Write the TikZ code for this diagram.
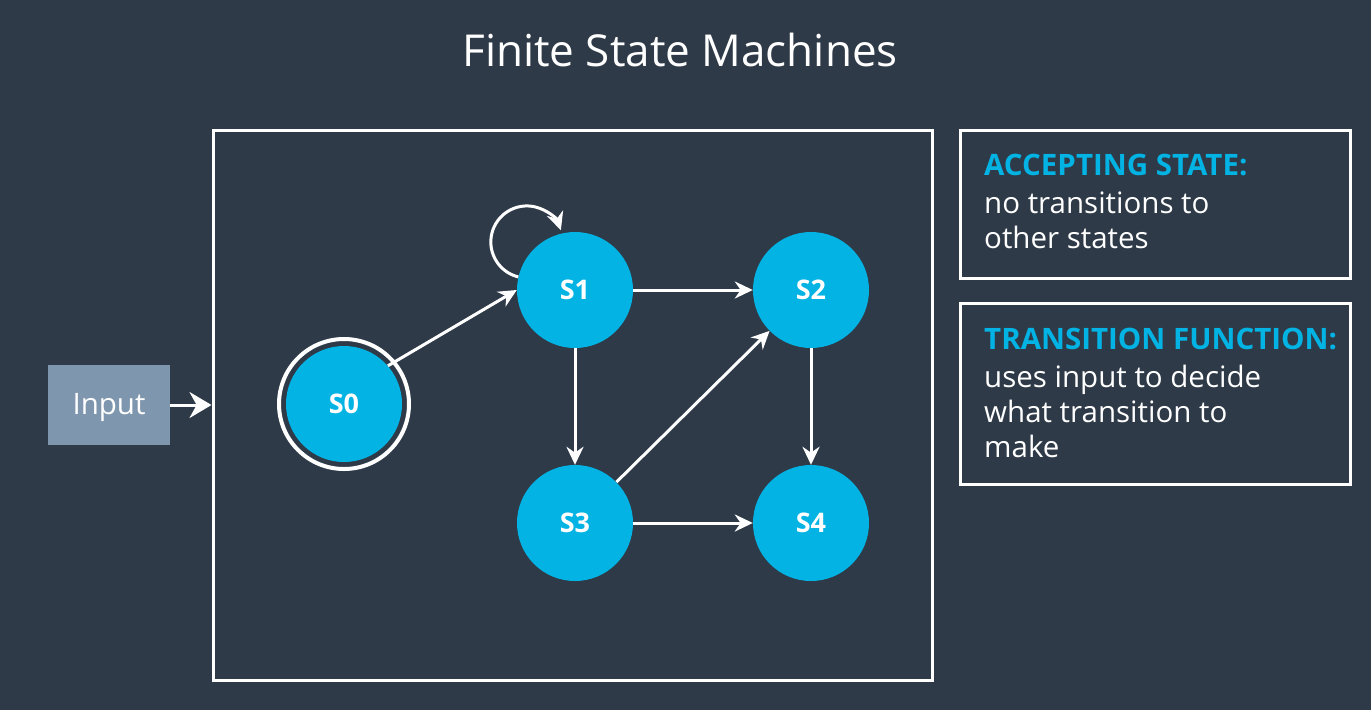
\documentclass[tikz,border=0pt]{standalone}
\usepackage{fontspec}
\setmainfont{Open Sans}
\usetikzlibrary{arrows.meta}
\definecolor{bg}{RGB}{46,58,72}
\definecolor{sblue}{RGB}{2,179,228}
\definecolor{inbox}{RGB}{127,151,174}
\tikzset{
  statenode/.style={circle, fill=sblue, minimum size=116pt, inner sep=0pt, text=white, font=\fontsize{27}{30}\selectfont\bfseries},
  conn/.style={draw=white, line width=3pt, -{Stealth[length=18pt,width=17pt]}},
  frame/.style={draw=white, line width=3pt},
  infotext/.style={text=white, align=left, anchor=north west, inner sep=0pt, font=\fontsize{29.5}{35}\selectfont},
}
\begin{document}
\begin{tikzpicture}[x=1pt,y=-1pt]
\fill[bg] (0,0) rectangle (1371,710);
\useasboundingbox (0,0) rectangle (1371,710);
\node[text=white, font=\fontsize{44}{50}\selectfont] (title) at (680,50) {Finite State Machines};
\node[frame, minimum width=719pt, minimum height=550pt, inner sep=0pt] (main) at (572.5,405) {};
\node[fill=inbox, minimum width=122pt, minimum height=80pt, inner sep=0pt] (input) at (109,405) {};
\node[text=white, font=\fontsize{29.5}{32}\selectfont, inner sep=0pt, yshift=-3pt] (inputlabel) at (input.center) {Input};
\draw[draw=white, line width=3pt, -{Stealth[length=22pt,width=26pt]}] (input.east) -- (main.west);
\node[statenode] (s0) at (344,404) {S0};
\node[draw=white, line width=4pt, circle, minimum size=130pt, inner sep=0pt] (s0ring) at (344,404) {};
\node[statenode] (s1) at (575,290) {S1};
\node[statenode] (s2) at (811,290) {S2};
\node[statenode] (s3) at (575,523) {S3};
\node[statenode] (s4) at (811,523) {S4};
\draw[conn] (s0.41) -- (s1.west);
\draw[conn] (s1) -- (s2);
\draw[conn] (s1) -- (s3);
\draw[conn] (s2) -- (s4);
\draw[conn] (s3) -- (s4);
\draw[conn] (s3) -- (s2);
\draw[conn] (s1.167) arc[start angle=103.7, end angle=341, radius=36];
\node[frame, minimum width=390pt, minimum height=148pt, inner sep=0pt] (box1) at (1155,204) {};
\node[frame, minimum width=390pt, minimum height=181pt, inner sep=0pt] (box2) at (1155,393.5) {};
\node[infotext] (t1) at (984,154) {\textcolor{sblue}{\bfseries ACCEPTING STATE:}\\[3pt]no transitions to\\other states};
\node[infotext] (t2) at (984,328) {\textcolor{sblue}{\bfseries TRANSITION FUNCTION:}\\[3pt]uses input to decide\\what transition to\\make};
\end{tikzpicture}
\end{document}
